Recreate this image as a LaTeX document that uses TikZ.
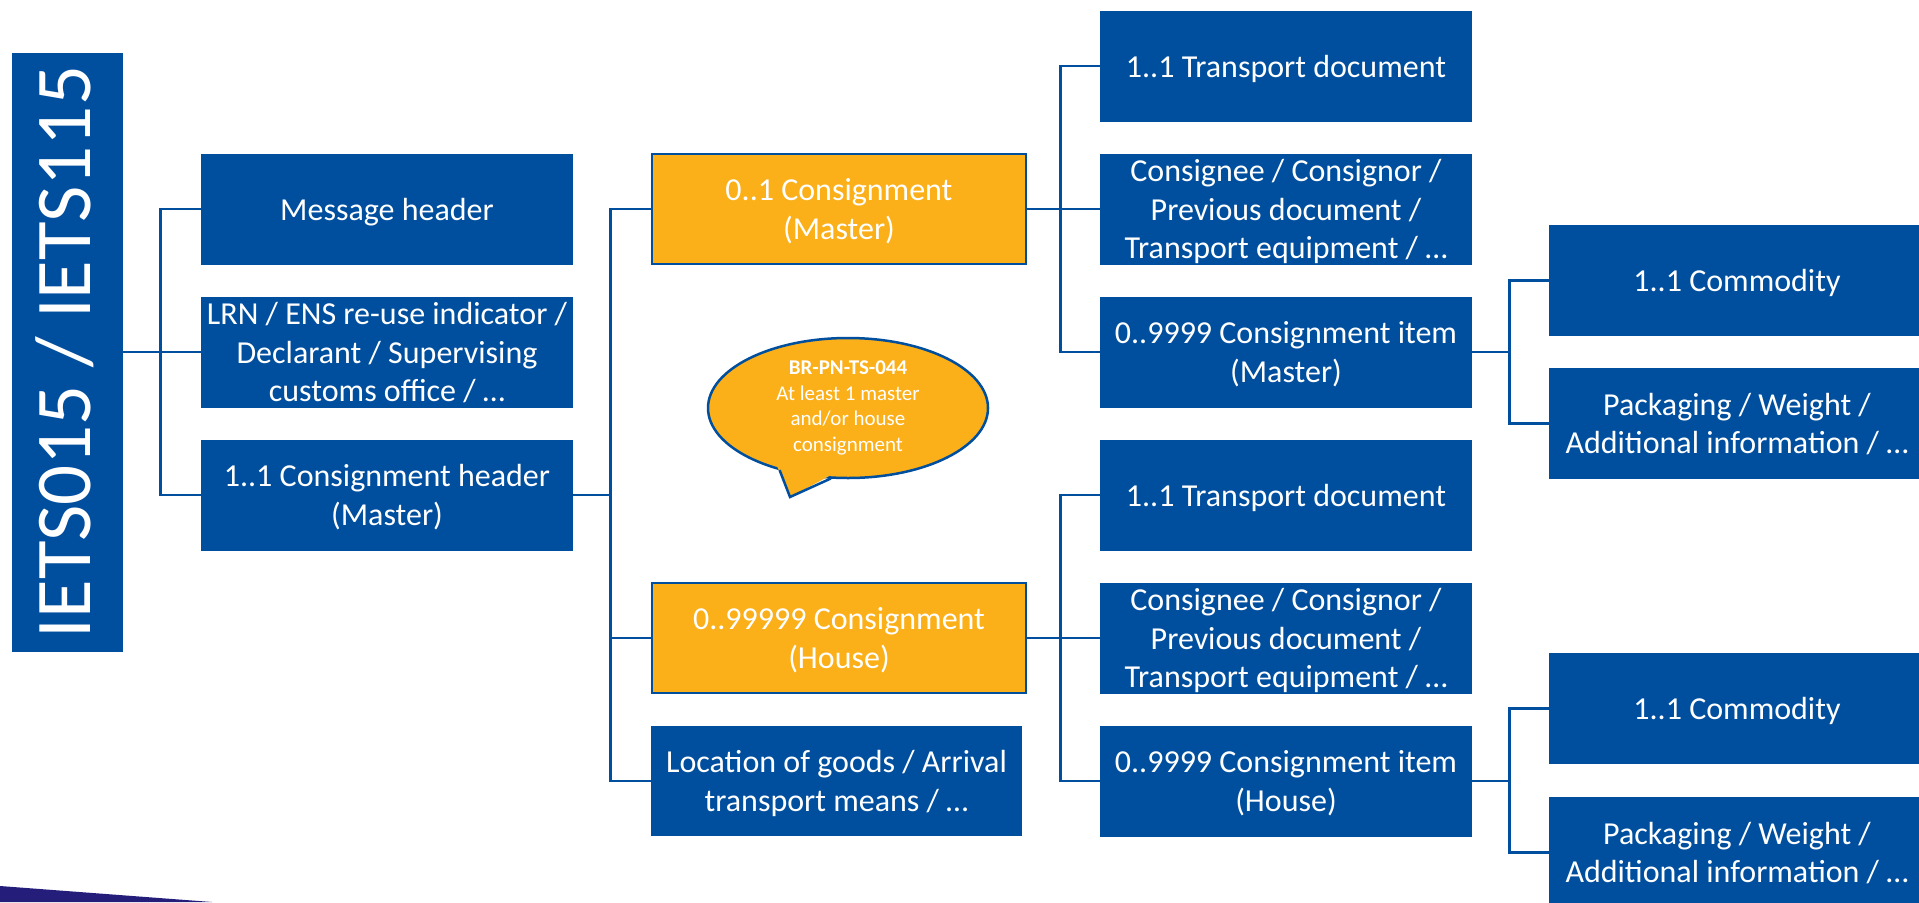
\documentclass[tikz,border=0pt]{standalone}
\usepackage{fontspec}
\setmainfont{Carlito}
\usetikzlibrary{shapes.geometric}
\definecolor{eublue}{RGB}{0,79,159}
\definecolor{euorange}{RGB}{251,175,24}
\definecolor{navyband}{RGB}{36,30,122}
\begin{document}
\begin{tikzpicture}[x=1pt,y=-1pt,
  cbox/.style={rectangle, inner sep=0pt, text=white, align=center, text depth=0pt, font=\fontsize{32pt}{38.4pt}\selectfont},
  bluebox/.style={cbox, fill=eublue},
  orangebox/.style={cbox, fill=euorange, draw=eublue, line width=2.5pt, minimum width=374pt, minimum height=110pt},
  rowsize/.style={minimum width=372pt, minimum height=111pt},
  comsize/.style={minimum width=376pt, minimum height=111pt},
  conn/.style={draw=eublue, line width=2.8pt},
]
\fill[white] (0,0) rectangle (1919,902);
\useasboundingbox (0,0) rectangle (1919,902);
\fill[navyband] (0,886) -- (212,902) -- (0,902) -- cycle;

% root
\node[bluebox, minimum width=111pt, minimum height=599pt] (iets) at (67.5,352) {};
\node[rotate=90, anchor=base, text=white, inner sep=0pt, font=\fontsize{79pt}{80pt}\selectfont] (ietslabel) at (90,352) {IETS015 / IETS115};

% left column
\node[bluebox, rowsize] (mh) at (387,209) {Message header};
\node[bluebox, rowsize] (lrn) at (387,352) {LRN / ENS re-use indicator /\\Declarant / Supervising\\customs office / …};
\node[bluebox, rowsize] (ch) at (387,495) {1..1 Consignment header\\(Master)};

% middle column
\node[orangebox] (cm) at (839,209) {0..1 Consignment\\(Master)};
\node[orangebox] (chs) at (839,638) {0..99999 Consignment\\(House)};
\node[bluebox, minimum width=371pt, minimum height=110pt] (loc) at (836.5,781) {Location of goods / Arrival\\transport means / …};

% right column
\node[bluebox, rowsize] (td1) at (1286,66) {1..1 Transport document};
\node[bluebox, rowsize] (cc1) at (1286,209) {Consignee / Consignor /\\Previous document /\\Transport equipment / …};
\node[bluebox, rowsize] (ci1) at (1286,352) {0..9999 Consignment item\\(Master)};
\node[bluebox, rowsize] (td2) at (1286,495) {1..1 Transport document};
\node[bluebox, rowsize] (cc2) at (1286,638) {Consignee / Consignor /\\Previous document /\\Transport equipment / …};
\node[bluebox, rowsize] (ci2) at (1286,781) {0..9999 Consignment item\\(House)};

% commodity column
\node[bluebox, comsize] (co1) at (1737,280.5) {1..1 Commodity};
\node[bluebox, comsize] (pk1) at (1737,423.5) {Packaging / Weight /\\Additional information / …};
\node[bluebox, comsize] (co2) at (1737,708.5) {1..1 Commodity};
\node[bluebox, comsize] (pk2) at (1737,852.5) {Packaging / Weight /\\Additional information / …};

% connectors
\draw[conn] (iets.east) -- (lrn.west);
\draw[conn] (mh.west) -- ++(-40,0) |- (ch.west);
\draw[conn] (ch.east) -- ++(39,0);
\draw[conn] (cm.west) -- ++(-40,0) |- (loc.west);
\draw[conn] (chs.west) -- ++(-40,0);
\draw[conn] (cm.east) -- (cc1.west);
\draw[conn] (td1.west) -- ++(-39,0) |- (ci1.west);
\draw[conn] (chs.east) -- (cc2.west);
\draw[conn] (td2.west) -- ++(-39,0) |- (ci2.west);
\draw[conn] (ci1.east) -- ++(38,0);
\draw[conn] (co1.west) -- ++(-39,0) |- (pk1.west);
\draw[conn] (ci2.east) -- ++(38,0);
\draw[conn] (co2.west) -- ++(-39,0) |- (pk2.west);

% speech bubble
\node[ellipse, fill=euorange, draw=eublue, line width=2.5pt, minimum width=280pt, minimum height=140pt, inner sep=0pt, text=white, align=center, font=\fontsize{21pt}{25.7pt}\selectfont] (bubble) at (848,408) {\textbf{BR-PN-TS-044}\\At least 1 master\\and/or house\\consignment};
\fill[euorange] (777,466) -- (790,497) -- (833,474) -- (805,460) -- cycle;
\draw[eublue, line width=2.5pt, line join=miter] (779.6,470.1) -- (790,497) -- (830.8,478.5);
\end{tikzpicture}
\end{document}
